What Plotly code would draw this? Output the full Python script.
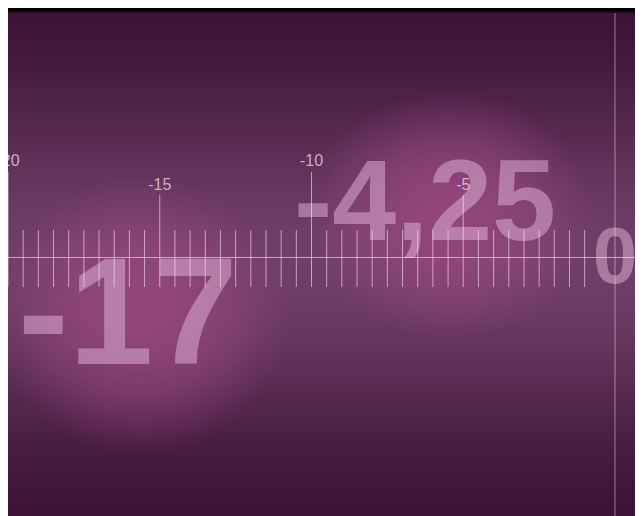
import numpy as np
import plotly.graph_objects as go

# ---------------- data ----------------
major_ticks = [-20, -15, -10, -5]
major_labels = ["-20", "-15", "-10", "-5"]
minor_ticks = [-19.5, -19, -18.5, -18, -17.5, -17, -16.5, -16, -15.5,
               -14.5, -14, -13.5, -13, -12.5, -12, -11.5, -11, -10.5,
               -9.5, -9, -8.5, -8, -7.5, -7, -6.5, -6, -5.5,
               -4.5, -4, -3.5, -3, -2.5, -2, -1.5, -1]
zero_value = [0]
big_numbers = ["-17", "-4,25", "0"]

# ---------------- layout constants (page pixels; page has an 8px body margin) ----------------
PAGE_W, PAGE_H = 643, 516
OFF = 8
FW, FH = PAGE_W - OFF, PAGE_H - OFF
ZERO_PX, UNIT_PX = 615.0, 30.35
x2_range = [(OFF - ZERO_PX) / UNIT_PX, (PAGE_W - ZERO_PX) / UNIT_PX]

tall = [-20, -10]
big_pos_x = [-16.05, -6.26, 0.0]
big_pos_y = [326, 211, 263]
big_sizes = [152, 115, 80]

# ---------------- background (decoration) ----------------
nx, ny = 212, 169
dx, dy = FW / nx, FH / ny
xs = OFF + dx * (np.arange(nx) + 0.5)
ys = OFF + dy * (np.arange(ny) + 0.5)
X, Y = np.meshgrid(xs, ys)
dark = np.array([52, 12, 46], float)
peak = np.array([112, 62, 104], float)
tprof = np.exp(-((Y - 262) / 180.0) ** 2)
base = dark + tprof[..., None] * (peak - dark)
G = np.array([158, 74, 132], float)


def glow(cx, cy, rx, ry, s):
    d2 = ((X - cx) / rx) ** 2 + ((Y - cy) / ry) ** 2
    return s * np.clip(1 - d2, 0, 1) ** 1.2


w = np.maximum(glow(140, 315, 150, 140, 0.75), glow(450, 215, 145, 125, 0.75))
img = base + w[..., None] * (G - base)
img = np.clip(img, 0, 255).astype(np.uint8)

fig = go.Figure()
fig.add_trace(go.Image(z=img.tolist(), x0=float(xs[0]), dx=dx, y0=float(ys[0]), dy=dy,
                       zsmooth="fast", hoverinfo="skip", xaxis="x", yaxis="y"))

# big numbers (drawn beneath the ruler lines)
for txt, px, py, fs in zip(big_numbers, big_pos_x, big_pos_y, big_sizes):
    fig.add_trace(go.Scatter(x=[px], y=[py], mode="text", text=[txt],
                             textposition="middle center",
                             textfont=dict(family="Liberation Sans", size=fs, weight=700,
                                           color="rgba(240,195,230,0.45)"),
                             hoverinfo="skip", xaxis="x2", yaxis="y2", showlegend=False))

# tick labels
lab_y = [162 if v in tall else 186 for v in major_ticks]
fig.add_trace(go.Scatter(x=major_ticks, y=lab_y, mode="text", text=major_labels,
                         textposition="middle center",
                         textfont=dict(family="Liberation Sans", size=16,
                                       color="rgba(250,215,240,0.75)"),
                         hoverinfo="skip", xaxis="x2", yaxis="y2", showlegend=False))

# ruler lines
lx, ly = [], []
for v in minor_ticks:
    lx += [v, v, None]
    ly += [230, 287, None]
for v in major_ticks:
    lx += [v, v, None]
    ly += [172 if v in tall else 195, 287, None]
lx += [x2_range[0], x2_range[1], None]
ly += [257.5, 257.5, None]
fig.add_trace(go.Scatter(x=lx, y=ly, mode="lines",
                         line=dict(color="rgba(255,225,245,0.62)", width=1),
                         hoverinfo="skip", xaxis="x2", yaxis="y2", showlegend=False))
fig.add_trace(go.Scatter(x=[zero_value[0], zero_value[0]], y=[12.5, PAGE_H], mode="lines",
                         line=dict(color="rgba(255,215,240,0.5)", width=1),
                         hoverinfo="skip", xaxis="x2", yaxis="y2", showlegend=False))

fig.add_shape(type="rect", xref="x", yref="y", x0=OFF, x1=PAGE_W, y0=OFF, y1=11.5,
              fillcolor="black", line_width=0, layer="above")
fig.add_shape(type="rect", xref="x", yref="y", x0=OFF, x1=PAGE_W, y0=11.5, y1=13,
              fillcolor="#1c0819", line_width=0, layer="above")

ax_common = dict(visible=False, showgrid=False, zeroline=False, fixedrange=True)
fig.update_layout(
    width=FW, height=FH,
    margin=dict(l=0, r=0, t=0, b=0, pad=0),
    paper_bgcolor="white", plot_bgcolor="rgba(0,0,0,0)",
    showlegend=False, hovermode=False,
    xaxis=dict(range=[OFF, PAGE_W], domain=[0, 1], **ax_common),
    yaxis=dict(range=[PAGE_H, OFF], domain=[0, 1], scaleanchor=False, **ax_common),
    xaxis2=dict(range=x2_range, overlaying="x", anchor="y2", **ax_common),
    yaxis2=dict(range=[PAGE_H, OFF], overlaying="y", anchor="x2", **ax_common),
)

fig.write_html("out.html")
